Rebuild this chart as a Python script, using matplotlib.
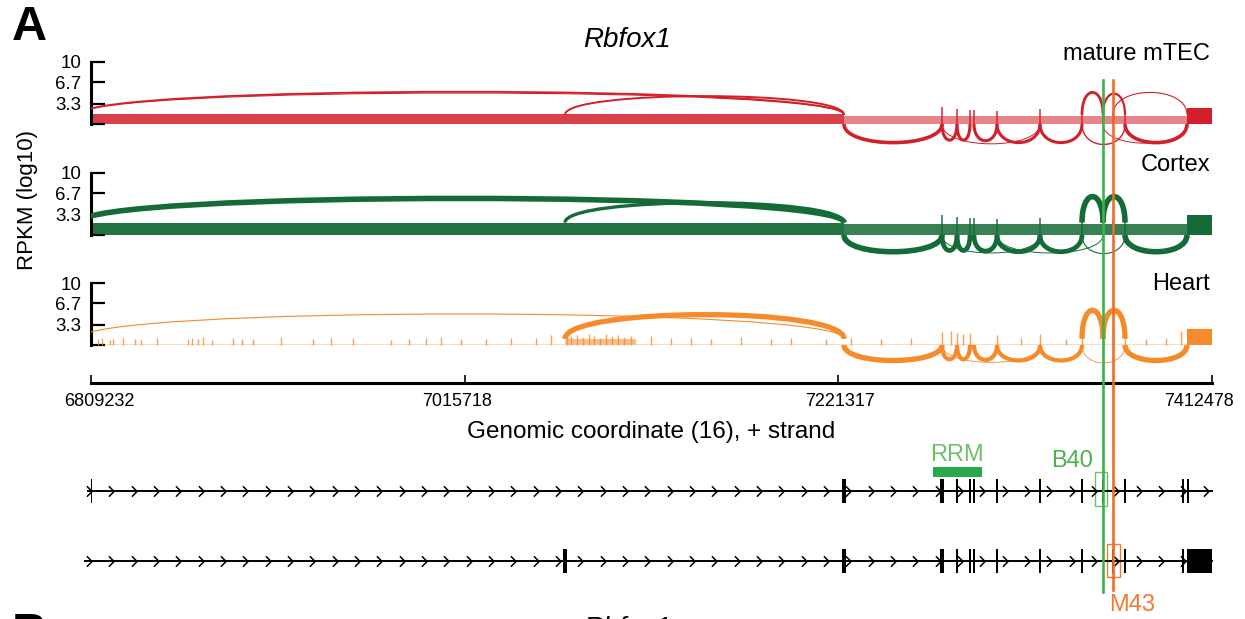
import matplotlib
matplotlib.use("Agg")
import matplotlib.pyplot as plt
import numpy as np
from matplotlib.path import Path
from matplotlib.patches import PathPatch, Rectangle
from matplotlib.transforms import blended_transform_factory, ScaledTranslation

plt.rcParams["font.family"] = ["Liberation Sans", "DejaVu Sans"]

W, H = 1245, 619

# x is an intron-scaled plot coordinate (0..1121); the genomic labels sit on it
x_tick_pos = [0, 374, 747, 1121]
x_tick_labels = ["6809232", "7015718", "7221317", "7412478"]
x_label_shift_px = [8, -8, 2, -13]
y_tick_pos = [0, 3.3, 6.7, 10]
y_tick_labels = ["", "3.3", "6.7", "10"]

tissues = ["mature mTEC", "Cortex", "Heart"]
track_colors = ["#d21f2a", "#156b37", "#f58b2a"]
arc_anchor = [1.5, 2.0, 1.0]  # coverage height where upper arcs leave the exon

# coverage bands (start, end, level, alpha)
mtec_band_start = [0, 753, 1096]
mtec_band_end = [753, 1096, 1121]
mtec_band_level = [1.6, 1.3, 2.6]
mtec_band_alpha = [0.85, 0.55, 1.0]
mtec_spike_x = [851, 866, 879, 883, 906, 949, 991, 1012, 1022, 1034]
mtec_spike_y = [2.7, 2.4, 2.3, 2.2, 2.1, 2.4, 2.2, 2.2, 1.9, 2.0]

cortex_band_start = [0, 753, 1096]
cortex_band_end = [753, 1096, 1121]
cortex_band_level = [2.0, 1.8, 3.3]
cortex_band_alpha = [0.95, 0.85, 1.0]
cortex_spike_x = [851, 866, 879, 883, 906, 949, 991, 1012, 1022, 1034]
cortex_spike_y = [3.2, 2.9, 2.8, 2.7, 2.6, 2.8, 2.6, 2.7, 2.4, 2.5]

heart_band_start = [0, 474, 545, 1096]
heart_band_end = [474, 545, 1096, 1121]
heart_band_level = [0.12, 0.9, 0.12, 2.6]
heart_band_alpha = [0.3, 0.55, 0.3, 1.0]
heart_spike_x = [7, 11, 19, 22, 32, 44, 50, 66, 97, 101, 107, 112, 121, 142, 151, 162, 190,
                 222, 240, 262, 300, 318, 335, 350, 370, 395, 420, 445, 460,
                 476, 480, 486, 492, 498, 503, 509, 515, 521, 527, 533, 540,
                 560, 580, 600, 620, 650, 680, 700, 735, 760, 790, 820, 851, 860, 866, 872, 879,
                 906, 930, 949, 975, 991, 1012, 1022, 1034, 1055, 1075, 1090]
heart_spike_y = [0.9, 1.1, 0.8, 1.0, 1.2, 0.9, 0.8, 1.1, 1.0, 1.2, 0.9, 1.3, 0.8, 1.2, 0.9, 1.0, 1.3,
                 0.9, 1.1, 1.2, 0.8, 1.0, 1.2, 1.3, 0.9, 1.0, 1.1, 1.2, 1.6,
                 1.9, 1.4, 1.6, 1.3, 1.7, 1.5, 1.2, 1.8, 1.4, 1.6, 1.3, 1.5,
                 1.4, 1.2, 1.1, 0.9, 1.3, 1.0, 1.2, 0.9, 1.1, 1.0, 1.2, 2.1, 2.3, 2.0, 1.8, 1.9,
                 1.6, 1.1, 1.7, 1.0, 1.5, 1.3, 1.2, 1.4, 1.0, 1.2, 2.2]

# junctions: start, end, peak height (negative = drawn below), line width
mtec_j_start = [-12, -12, 474, 991, 1012, 1022, 753, 851, 866, 883, 906, 949, 1034, 851, 991, 1012]
mtec_j_end = [753, 753, 753, 1012, 1034, 1096, 851, 866, 879, 906, 949, 991, 1096, 949, 1034, 1096]
mtec_j_peak = [5.2, 5.0, 4.5, 5.1, 4.9, 5.1, -3.0, -2.6, -2.6, -2.7, -3.0, -3.0, -3.0, -3.2, -3.3, -3.1]
mtec_j_lw = [1.3, 0.8, 1.4, 2.0, 1.6, 0.8, 2.6, 2.2, 2.2, 2.2, 2.2, 2.2, 2.6, 0.7, 1.0, 0.7]

cortex_j_start = [-12, 474, 991, 1012, 753, 851, 866, 883, 906, 949, 1034, 851, 906, 991]
cortex_j_end = [753, 753, 1012, 1034, 851, 866, 879, 906, 949, 991, 1096, 949, 1012, 1034]
cortex_j_peak = [5.9, 5.2, 6.2, 6.2, -2.7, -2.5, -2.5, -2.6, -2.7, -2.7, -2.7, -2.9, -2.9, -3.0]
cortex_j_lw = [4.0, 2.4, 4.0, 4.0, 4.0, 3.4, 3.4, 3.4, 3.4, 3.4, 4.0, 0.7, 0.7, 0.8]

heart_j_start = [-12, 474, 991, 1012, 753, 851, 866, 883, 906, 949, 1034, 851, 991]
heart_j_end = [753, 753, 1012, 1034, 851, 866, 879, 906, 949, 991, 1096, 949, 1034]
heart_j_peak = [5.0, 4.9, 5.6, 5.6, -2.5, -2.3, -2.3, -2.4, -2.5, -2.5, -2.5, -2.8, -2.9]
heart_j_lw = [0.8, 3.8, 3.8, 3.8, 3.8, 3.0, 3.0, 3.0, 3.0, 3.0, 3.8, 0.6, 0.6]

# transcript models
tx1_exon_x = [0.5, 753, 851, 866, 879, 883, 906, 949, 991, 1012, 1034, 1092, 1097]
tx1_exon_w = [1.5, 4, 3.5, 1.5, 2, 2, 2, 2, 2.5, 1.5, 2.5, 2, 2]
tx2_exon_x = [474, 753, 851, 866, 879, 883, 906, 949, 991, 1022, 1034, 1092, 1108.5]
tx2_exon_w = [4, 4, 3.5, 1.5, 2, 2, 2, 2, 2.5, 1.5, 2.5, 2, 25]
b40_x, m43_x = 1012, 1022
rrm_start, rrm_end = 842, 891

chevron_step = 22.33


def px_box(left, top, right, bottom):
    return [left / W, 1 - bottom / H, (right - left) / W, (bottom - top) / H]


def draw_arc(ax, x1, x2, anchor, peak, lw, color):
    # cubic bezier, vertical at both ends, reaching `peak` in the middle
    yc = (peak - anchor / 4.0) / 0.75
    path = Path([(x1, anchor), (x1, yc), (x2, yc), (x2, anchor)],
                [Path.MOVETO, Path.CURVE4, Path.CURVE4, Path.CURVE4])
    ax.add_patch(PathPatch(path, fill=False, ec=color, lw=lw, capstyle="butt", zorder=3))


fig = plt.figure(figsize=(W / 100, H / 100), dpi=100)

tracks = [
    (mtec_band_start, mtec_band_end, mtec_band_level, mtec_band_alpha, mtec_spike_x, mtec_spike_y,
     mtec_j_start, mtec_j_end, mtec_j_peak, mtec_j_lw),
    (cortex_band_start, cortex_band_end, cortex_band_level, cortex_band_alpha, cortex_spike_x, cortex_spike_y,
     cortex_j_start, cortex_j_end, cortex_j_peak, cortex_j_lw),
    (heart_band_start, heart_band_end, heart_band_level, heart_band_alpha, heart_spike_x, heart_spike_y,
     heart_j_start, heart_j_end, heart_j_peak, heart_j_lw),
]
baselines = [124, 235, 345]
label_y = [54, 165, 284]
spike_lw = [1.3, 1.3, 1.0]
px_per_unit = 6.2
y_lo, y_hi = -4.0, 10.5

for i, tr in enumerate(tracks):
    bs, be, bl, ba, sx, sy, js, je, jp, jw = tr
    color = track_colors[i]
    b = baselines[i]
    ax = fig.add_axes(px_box(91, b - y_hi * px_per_unit, 1212, b - y_lo * px_per_unit))
    ax.set_xlim(0, 1121)
    ax.set_ylim(y_lo, y_hi)
    ax.patch.set_alpha(0)
    for s, e, lv, a in zip(bs, be, bl, ba):
        ax.bar(s, lv, width=e - s, align="edge", color=color, alpha=a, linewidth=0)
    ax.vlines(sx, 0, sy, color=color, lw=spike_lw[i], alpha=0.8)
    for s, e, p, lw in zip(js, je, jp, jw):
        anchor = arc_anchor[i] if p > 0 else 0.0
        draw_arc(ax, s, e, anchor, p, lw, color)
    for side in ["top", "right", "bottom"]:
        ax.spines[side].set_visible(False)
    ax.spines["left"].set_bounds(0, 10)
    ax.spines["left"].set_linewidth(2.2)
    ax.set_xticks([])
    ax.set_yticks(y_tick_pos)
    ax.set_yticklabels(y_tick_labels)
    ax.tick_params(axis="y", direction="in", length=10, width=1.6, labelsize=13.5, pad=7)
    fig.text(1210 / W, 1 - label_y[i] / H, tissues[i], ha="right", va="center", fontsize=17)

# genomic axis
ax_x = fig.add_axes(px_box(91, 382, 1212, 383))
ax_x.set_xlim(0, 1121)
ax_x.patch.set_alpha(0)
for side in ["top", "right", "left"]:
    ax_x.spines[side].set_visible(False)
ax_x.spines["bottom"].set_linewidth(2.2)
ax_x.set_yticks([])
ax_x.set_xticks(x_tick_pos)
ax_x.set_xticklabels(x_tick_labels)
ax_x.tick_params(axis="x", direction="in", length=6, width=1.2, labelsize=13, pad=7)
for lab, dx in zip(ax_x.get_xticklabels(), x_label_shift_px):
    lab.set_transform(lab.get_transform() + ScaledTranslation(dx / 100, 0, fig.dpi_scale_trans))
ax_x.set_xlabel("Genomic coordinate (16), + strand", fontsize=17.5, labelpad=8)

# transcript models
ax_g = fig.add_axes(px_box(91, 440, 1212, 605))
ax_g.set_xlim(0, 1121)
ax_g.set_ylim(-1.257, 3.457)
ax_g.axis("off")
chev = Path([(-0.45, 0.9), (0.45, 0.0), (-0.45, -0.9)], [Path.MOVETO, Path.LINETO, Path.LINETO])
chev_x = np.arange(-2, 1118, chevron_step)
for y, ex, ew, x0 in [(2, tx1_exon_x, tx1_exon_w, -3), (0, tx2_exon_x, tx2_exon_w, -6)]:
    ax_g.plot([x0, 1121], [y, y], color="black", lw=1.4, clip_on=False)
    ax_g.plot(chev_x, np.full(len(chev_x), y), ls="none", marker=chev, ms=7.5,
              mfc="none", mec="black", mew=1.1, clip_on=False)
    ax_g.bar(ex, 0.66, width=ew, bottom=y - 0.33, color="black", linewidth=0)

ax_g.bar((rrm_start + rrm_end) / 2, 0.29, width=rrm_end - rrm_start, bottom=2.40, color="#2ba84a")
ax_g.text((rrm_start + rrm_end) / 2, 3.03, "RRM", color="#6cc06c", fontsize=17, ha="center", va="center")
ax_g.text(981, 2.86, "B40", color="#4cb04c", fontsize=17, ha="center", va="center")
ax_g.text(1041, -1.25, "M43", color="#f47a30", fontsize=17, ha="center", va="center", clip_on=False)
ax_g.add_patch(Rectangle((b40_x - 8, 1.571), 12, 0.971, fill=False, ec="#6cc06c", lw=1.0))
ax_g.add_patch(Rectangle((m43_x - 6, -0.457), 13, 0.943, fill=False, ec="#f47a30", lw=1.0))

# exon markers spanning all panels
tr_v = blended_transform_factory(ax_g.transData, fig.transFigure)
fig.add_artist(plt.Line2D([b40_x, b40_x], [1 - 80 / H, 1 - 592 / H], color="#3bb34a", lw=1.9,
                          transform=tr_v, zorder=10))
fig.add_artist(plt.Line2D([m43_x, m43_x], [1 - 80 / H, 1 - 590 / H], color="#f26b24", lw=1.9,
                          transform=tr_v, zorder=10))

fig.text(12 / W, 1 - 28 / H, "A", fontsize=35, fontweight="bold", ha="left", va="center")
fig.text(627 / W, 1 - 40 / H, "Rbfox1", fontsize=20, style="italic", ha="center", va="center")
fig.text(27 / W, 1 - 200 / H, "RPKM (log10)", fontsize=16, rotation=90, ha="center", va="center")
# next panel, cut off at the bottom edge as in the source figure
fig.text(12 / W, 1 - 612 / H, "B", fontsize=35, fontweight="bold", ha="left", va="top")
fig.text(627 / W, 1 - 616 / H, "Rbfox1", fontsize=20, style="italic", ha="center", va="top")

fig.savefig("out.png", dpi=100)
